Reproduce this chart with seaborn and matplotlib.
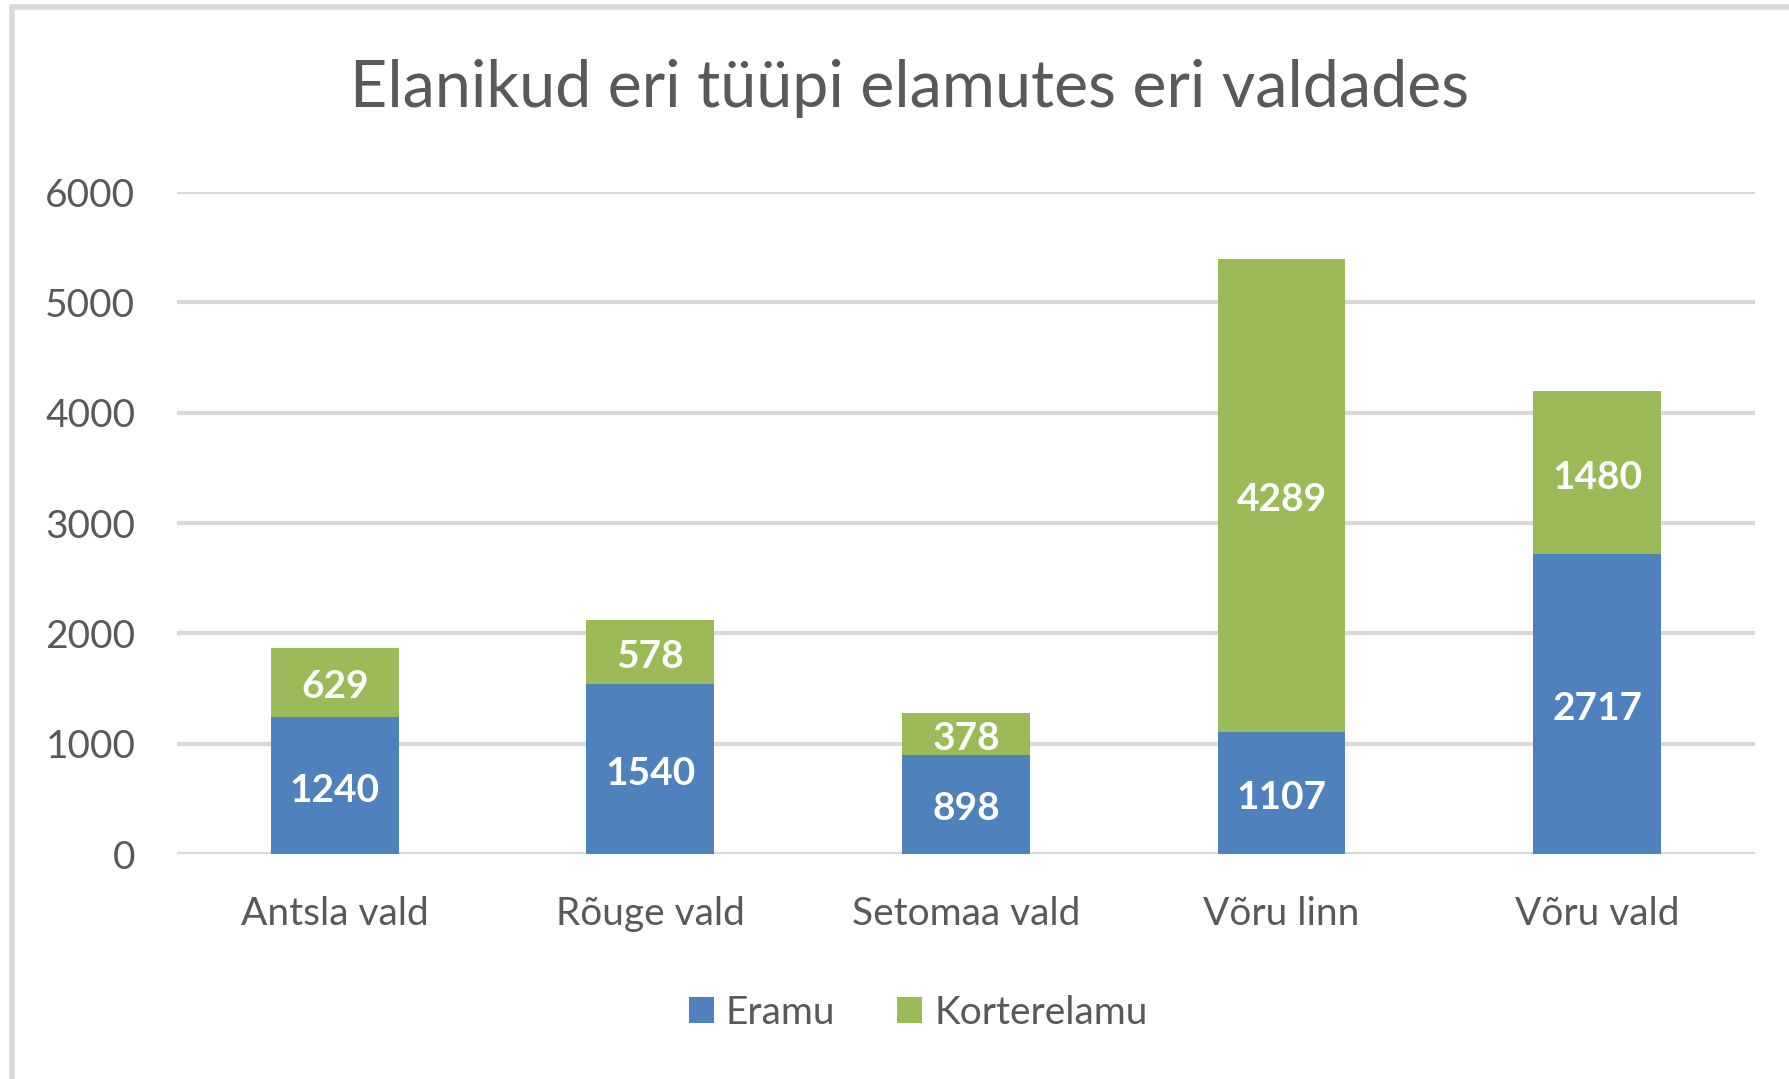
import matplotlib

matplotlib.use("Agg")

import matplotlib.pyplot as plt
import numpy as np
import pandas as pd
import seaborn as sns
from matplotlib.lines import Line2D
from matplotlib.patches import Patch

# data
regions = ["Antsla vald", "Rõuge vald", "Setomaa vald", "Võru linn", "Võru vald"]
eramu = [1240, 1540, 898, 1107, 2717]
korterelamu = [629, 578, 378, 4289, 1480]
series_names = ["Eramu", "Korterelamu"]
title = "Elanikud eri tüüpi elamutes eri valdades"

BLUE = "#4F81BD"
GREEN = "#9BBB59"
TEXT = "#595959"
GRID = "#D9D9D9"

sns.set_theme(style="white")
plt.rcParams["font.family"] = ["Lato", "DejaVu Sans"]

df = pd.DataFrame({"region": regions, "Eramu": eramu, "Korterelamu": korterelamu})
df["total"] = df["Eramu"] + df["Korterelamu"]

fig = plt.figure(figsize=(17.9, 10.79), dpi=100)
ax = fig.add_axes([0.0989, 0.2085, 0.8815, 0.6135])

# stacked bars: full height in green, blue base drawn over it
sns.barplot(data=df, x="region", y="total", color=GREEN, saturation=1, width=0.405,
            linewidth=0, ax=ax)
sns.barplot(data=df, x="region", y="Eramu", color=BLUE, saturation=1, width=0.405,
            linewidth=0, ax=ax)

for i, row in df.iterrows():
    ax.text(i, row["Eramu"] / 2 - 40, f"{row['Eramu']}", ha="center", va="center",
            color="white", fontsize=28, fontweight="bold")
    ax.text(i, row["Eramu"] + row["Korterelamu"] / 2 - 40, f"{row['Korterelamu']}",
            ha="center", va="center", color="white", fontsize=28, fontweight="bold")

ax.set_ylim(0, 6000)
ax.set_xlim(-0.5, len(regions) - 0.5)
ax.set_yticks(np.arange(0, 6001, 1000))
ax.yaxis.grid(True, color=GRID, linewidth=3)
ax.set_axisbelow(True)
sns.despine(ax=ax, left=True, bottom=True)
ax.axhline(0, color=GRID, linewidth=3, zorder=0.5)
ax.set_xlabel("")
ax.set_ylabel("")
ax.tick_params(axis="y", length=0, pad=30, labelsize=28, labelcolor=TEXT)
ax.tick_params(axis="x", length=0, pad=30, labelsize=28, labelcolor=TEXT)

fig.text(910 / 1790, 1 - 89 / 1079, title, ha="center", va="center", fontsize=46.5,
         color=TEXT)

handles = [Patch(facecolor=BLUE, edgecolor="none"), Patch(facecolor=GREEN, edgecolor="none")]
fig.legend(handles, series_names, loc="center", bbox_to_anchor=(918 / 1790, 1 - 1013 / 1079),
           ncol=2, frameon=False, fontsize=28, labelcolor=TEXT, handlelength=0.65,
           handleheight=0.65, handletextpad=0.3, columnspacing=1.6)

# light frame on the left and top edges
fig.add_artist(Line2D([12 / 1790, 12 / 1790], [0, 1 - 7 / 1079], color=GRID, linewidth=4,
                      transform=fig.transFigure))
fig.add_artist(Line2D([12 / 1790, 1], [1 - 7 / 1079, 1 - 7 / 1079], color=GRID, linewidth=4,
                      transform=fig.transFigure))

fig.savefig("out.png", dpi=100, facecolor="white")
plt.close(fig)
